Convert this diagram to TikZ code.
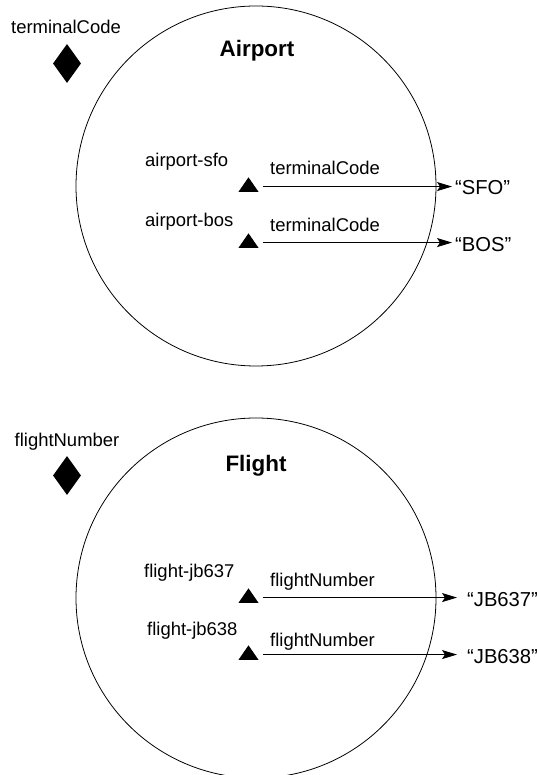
\documentclass[tikz,border=0pt]{standalone}
\usepackage{fontspec}
\setmainfont{Liberation Sans}
\usepackage{tikz}
\usetikzlibrary{arrows.meta,positioning,shapes.geometric}
\tikzset{
  cls/.style   = {draw, circle, line width=0.9pt, minimum size=14.4cm, inner sep=0pt},
  prop/.style  = {diamond, fill, minimum width=1.12cm, minimum height=1.56cm, inner sep=0pt},
  inst/.style  = {isosceles triangle, isosceles triangle stretches, shape border rotate=90,
                  fill, minimum width=0.80cm, minimum height=0.58cm, inner sep=0pt},
  ttl/.style   = {font=\fontsize{25.5}{28}\selectfont\bfseries, inner sep=0pt},
  lbl/.style   = {font=\fontsize{21}{24}\selectfont, inner sep=0pt},
  val/.style   = {font=\fontsize{23}{26}\selectfont, inner sep=0pt},
  ar/.style    = {-{Stealth[length=6mm,width=3.6mm,inset=1.2mm]}, line width=0.9pt,
                  shorten <=3mm}
}

\begin{document}
\begin{tikzpicture}[x=1cm, y=1cm]
\useasboundingbox (0,0) rectangle (21.48,31);

\node[cls] (airport) at (10.24,23.56) {};
\node[ttl, anchor=base] (airportT) at (10.28,28.72) {Airport};
\node[lbl, anchor=base] (tcodeL) at (2.64,29.64) {terminalCode};
\node[prop] (tcode) at (2.68,28.46) {};

\node[lbl, anchor=base west] (sfoN) at (5.80,24.32) {airport-sfo};
\node[inst, anchor=south] (sfo) at (9.94,23.32) {};
\node[lbl, anchor=base west] (sfoL) at (10.80,24.00) {terminalCode};
\node[val, anchor=west] (sfoV) at (18.20,23.50) {“SFO”};

\node[lbl, anchor=base west] (bosN) at (5.80,21.92) {airport-bos};
\node[inst, anchor=south] (bos) at (9.94,21.08) {};
\node[lbl, anchor=base west] (bosL) at (10.80,21.72) {terminalCode};
\node[val, anchor=west] (bosV) at (18.20,21.20) {“BOS”};

\draw[ar, shorten >=1.2mm] (sfo.east) -- (sfo.east -| sfoV.west);
\draw[ar, shorten >=1.2mm] (bos.east) -- (bos.east -| bosV.west);

\node[cls] (flight) at (10.24,7.08) {};
\node[ttl, anchor=base] (flightT) at (10.24,12.12) {Flight};
\node[lbl, anchor=base] (fnumL) at (2.68,13.12) {flightNumber};
\node[prop] (fnum) at (2.68,11.98) {};

\node[lbl, anchor=base west] (jb637N) at (5.76,7.88) {flight-jb637};
\node[inst, anchor=south] (jb637) at (9.94,6.88) {};
\node[lbl, anchor=base west] (jb637L) at (10.80,7.52) {flightNumber};
\node[val, anchor=west] (jb637V) at (18.68,7.02) {“JB637”};

\node[lbl, anchor=base west] (jb638N) at (5.88,5.56) {flight-jb638};
\node[inst, anchor=south] (jb638) at (9.94,4.60) {};
\node[lbl, anchor=base west] (jb638L) at (10.80,5.12) {flightNumber};
\node[val, anchor=west] (jb638V) at (18.68,4.74) {“JB638”};

\draw[ar, shorten >=4mm] (jb637.east) -- (jb637.east -| jb637V.west);
\draw[ar, shorten >=4mm] (jb638.east) -- (jb638.east -| jb638V.west);
\end{tikzpicture}
\end{document}
